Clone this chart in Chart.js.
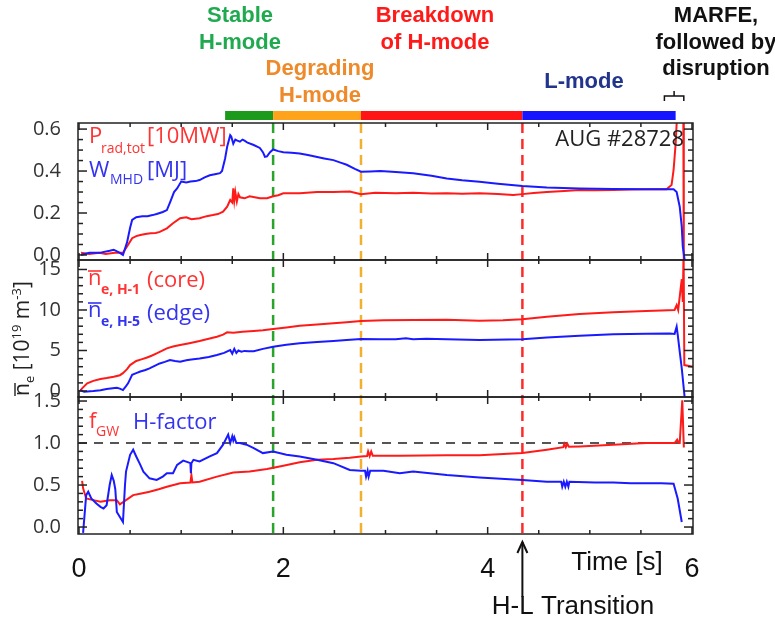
<!DOCTYPE html>
<html>
<head>
<meta charset="utf-8">
<script src="https://cdn.jsdelivr.net/npm/chart.js@4.4.0/dist/chart.umd.min.js"></script>
<style>
    html, body { margin: 0; padding: 0; background: #fff; }
    #wrap { position: relative; width: 775px; height: 624px; }
</style>
</head>
<body>
<div id="wrap"><canvas id="shotChart" width="775" height="624"></canvas></div>
<script>
// tick labels
var timeTicks = [0, 2, 4, 6];
var energyTicks = [0, 0.2, 0.4, 0.6];
var densTicks = [0, 5, 10, 15];
var factorTicks = [0, 0.5, 1.0, 1.5];

// phases (s)
var phaseEdges = [1.43, 1.90, 2.76, 4.34, 5.84];
var phaseColors = ['#1c9a1c', '#ffa31a', '#ff1515', '#1515ff'];
var markerTimes = [1.90, 2.76, 4.34];
var markerColors = ['#2aa52a', '#f2b02e', '#ff2a2a'];
var marfeSpan = [5.73, 5.92];
var hlTime = 4.34;
var greenwaldLimit = 1.0;

// W_MHD [MJ]  [t, value]
var wmhd = [[0.02,0.00],[0.10,0.01],[0.20,0.01],[0.30,0.02],[0.34,0.025],[0.40,0.01],[0.43,0.00],[0.47,0.06],[0.50,0.13],[0.52,0.167],[0.56,0.18],[0.62,0.185],[0.67,0.185],[0.72,0.19],[0.76,0.195],[0.82,0.205],[0.86,0.214],[0.89,0.25],[0.93,0.30],[0.96,0.317],[1.00,0.35],[1.05,0.345],[1.09,0.35],[1.14,0.352],[1.18,0.357],[1.23,0.37],[1.28,0.38],[1.33,0.385],[1.38,0.39],[1.40,0.40],[1.43,0.46],[1.45,0.516],[1.48,0.571],[1.49,0.565],[1.51,0.53],[1.53,0.55],[1.55,0.545],[1.575,0.54],[1.60,0.55],[1.62,0.545],[1.65,0.535],[1.71,0.524],[1.77,0.51],[1.80,0.49],[1.82,0.468],[1.84,0.47],[1.87,0.49],[1.90,0.503],[1.95,0.495],[2.00,0.49],[2.08,0.487],[2.16,0.484],[2.24,0.476],[2.32,0.468],[2.40,0.46],[2.49,0.452],[2.56,0.44],[2.62,0.43],[2.70,0.41],[2.76,0.397],[2.85,0.398],[2.95,0.40],[3.10,0.395],[3.27,0.389],[3.45,0.378],[3.60,0.365],[3.75,0.356],[3.92,0.349],[4.10,0.34],[4.34,0.329],[4.58,0.322],[4.90,0.317],[5.23,0.314],[5.55,0.313],[5.75,0.313],[5.82,0.313],[5.85,0.30],[5.88,0.23],[5.90,0.135],[5.91,0.04],[5.93,-0.03]];
// P_rad,tot [10MW]
var prad = [[0.02,0.01],[0.10,0.005],[0.20,0.01],[0.26,0.005],[0.35,0.01],[0.43,0.01],[0.47,0.04],[0.52,0.08],[0.56,0.09],[0.60,0.095],[0.65,0.10],[0.70,0.103],[0.75,0.105],[0.79,0.11],[0.86,0.127],[0.92,0.151],[0.99,0.175],[1.05,0.18],[1.10,0.17],[1.18,0.175],[1.25,0.185],[1.31,0.19],[1.36,0.195],[1.41,0.206],[1.45,0.23],[1.48,0.262],[1.50,0.25],[1.51,0.318],[1.52,0.26],[1.53,0.30],[1.545,0.255],[1.56,0.29],[1.575,0.275],[1.62,0.27],[1.67,0.28],[1.72,0.275],[1.77,0.27],[1.84,0.27],[1.90,0.28],[1.95,0.285],[2.00,0.294],[2.16,0.294],[2.33,0.30],[2.49,0.30],[2.65,0.302],[2.76,0.29],[2.90,0.297],[3.10,0.294],[3.27,0.296],[3.45,0.293],[3.60,0.294],[3.75,0.292],[3.92,0.294],[4.10,0.29],[4.25,0.286],[4.34,0.29],[4.45,0.295],[4.58,0.30],[4.75,0.305],[4.90,0.31],[5.05,0.308],[5.23,0.31],[5.40,0.312],[5.55,0.313],[5.75,0.313],[5.80,0.333],[5.82,0.405],[5.84,0.53],[5.85,0.627],[5.87,0.70],[5.915,0.70],[5.92,-0.05]];
// line averaged density, core (H-1) and edge (H-5) [1e19 m^-3]
var neCore = [[0.01,0.0],[0.03,0.33],[0.08,0.95],[0.14,1.25],[0.21,1.48],[0.27,1.6],[0.34,1.77],[0.40,1.95],[0.43,2.2],[0.47,2.7],[0.50,3.2],[0.56,3.7],[0.61,3.9],[0.66,4.1],[0.71,4.35],[0.76,4.65],[0.81,4.95],[0.86,5.27],[0.92,5.5],[0.99,5.68],[1.08,5.9],[1.18,6.17],[1.27,6.45],[1.35,6.7],[1.41,6.95],[1.45,7.24],[1.51,7.2],[1.60,7.3],[1.71,7.4],[1.80,7.5],[1.90,7.65],[2.03,7.85],[2.16,8.06],[2.33,8.2],[2.49,8.35],[2.62,8.5],[2.76,8.64],[2.98,8.72],[3.27,8.77],[3.60,8.8],[3.92,8.68],[4.15,8.72],[4.34,8.85],[4.58,9.18],[4.90,9.5],[5.23,9.71],[5.55,9.88],[5.70,9.95],[5.83,10.0],[5.85,10.6],[5.865,10.0],[5.90,13.8],[5.91,11.0],[5.918,17.5],[5.925,3.2],[6.01,3.0]];
var neEdge = [[0.01,0.1],[0.05,-0.1],[0.14,0.0],[0.21,0.1],[0.27,0.25],[0.33,0.35],[0.37,0.4],[0.40,0.3],[0.43,0.12],[0.46,0.6],[0.48,0.95],[0.52,2.0],[0.56,2.2],[0.60,2.4],[0.65,2.6],[0.69,2.8],[0.74,3.1],[0.79,3.4],[0.84,3.6],[0.89,3.83],[0.94,3.7],[0.99,3.6],[1.05,3.8],[1.10,3.9],[1.18,4.0],[1.27,4.2],[1.35,4.44],[1.42,4.7],[1.48,5.06],[1.50,4.6],[1.52,5.2],[1.54,4.7],[1.56,5.0],[1.59,4.85],[1.62,4.95],[1.66,4.9],[1.71,4.9],[1.80,5.2],[1.90,5.47],[2.03,5.7],[2.16,5.9],[2.33,6.05],[2.49,6.17],[2.62,6.3],[2.76,6.42],[2.95,6.4],[3.10,6.38],[3.20,6.5],[3.27,6.4],[3.40,6.45],[3.60,6.38],[3.92,6.3],[4.34,6.38],[4.58,6.6],[4.90,6.83],[5.23,7.0],[5.55,7.08],[5.78,7.1],[5.83,7.05],[5.85,7.94],[5.86,7.0],[5.88,4.85],[5.90,2.8],[5.93,-1]];
// Greenwald fraction and H-factor
var fgw = [[0.03,0.55],[0.04,0.46],[0.07,0.34],[0.14,0.32],[0.21,0.30],[0.30,0.32],[0.37,0.32],[0.40,0.27],[0.46,0.32],[0.53,0.38],[0.61,0.40],[0.69,0.42],[0.78,0.45],[0.86,0.48],[0.99,0.52],[1.09,0.53],[1.10,0.62],[1.11,0.53],[1.18,0.54],[1.35,0.60],[1.51,0.65],[1.67,0.66],[1.84,0.69],[2.00,0.73],[2.16,0.77],[2.33,0.80],[2.49,0.81],[2.65,0.825],[2.76,0.84],[2.82,0.845],[2.83,0.90],[2.845,0.845],[2.86,0.90],[2.875,0.85],[2.95,0.85],[3.14,0.85],[3.60,0.855],[3.92,0.855],[4.34,0.88],[4.58,0.92],[4.74,0.95],[4.75,0.99],[4.765,0.95],[4.78,0.99],[4.795,0.955],[4.90,0.96],[5.23,0.98],[5.55,1.0],[5.83,1.0],[5.855,1.04],[5.87,1.0],[5.88,1.0],[5.905,1.51],[5.92,0.96],[5.93,0.96]];
var hFactor = [[0.04,-0.07],[0.07,0.38],[0.09,0.42],[0.12,0.34],[0.17,0.28],[0.21,0.24],[0.24,0.22],[0.27,0.26],[0.30,0.5],[0.32,0.62],[0.34,0.55],[0.355,0.45],[0.37,0.18],[0.40,0.12],[0.43,0.06],[0.45,0.5],[0.46,0.66],[0.50,0.86],[0.53,0.92],[0.56,0.84],[0.60,0.74],[0.63,0.66],[0.69,0.58],[0.76,0.56],[0.82,0.6],[0.86,0.64],[0.92,0.64],[0.96,0.74],[1.02,0.79],[1.07,0.77],[1.09,0.76],[1.095,0.64],[1.10,0.76],[1.12,0.80],[1.18,0.78],[1.28,0.84],[1.35,0.88],[1.41,0.98],[1.46,1.1],[1.48,1.0],[1.50,1.08],[1.51,1.03],[1.52,1.07],[1.54,1.0],[1.575,1.0],[1.64,0.98],[1.71,0.94],[1.80,0.88],[1.90,0.9],[2.03,0.86],[2.16,0.84],[2.33,0.8],[2.49,0.76],[2.65,0.68],[2.76,0.67],[2.80,0.67],[2.81,0.60],[2.825,0.67],[2.835,0.60],[2.85,0.67],[2.98,0.67],[3.14,0.64],[3.27,0.66],[3.60,0.62],[3.92,0.59],[4.34,0.56],[4.58,0.54],[4.72,0.54],[4.73,0.48],[4.745,0.54],[4.76,0.48],[4.775,0.54],[4.79,0.48],[4.80,0.54],[5.05,0.53],[5.23,0.53],[5.40,0.52],[5.55,0.52],[5.70,0.52],[5.82,0.515],[5.86,0.34],[5.90,0.06]];

var RED = '#ff1a1a', BLUE = '#1a1aff';
var RED_TXT = '#ff3333', BLUE_TXT = '#3333f0';
var SANS = "'Liberation Sans', Arial, sans-serif";
var OPEN = "'Open Sans', sans-serif";

function series(pairs, axis, color) {
    return {
        data: pairs.map(p => ({ x: p[0], y: p[1] })),
        xAxisID: 'x',
        yAxisID: axis,
        borderColor: color,
        borderWidth: 2,
        pointRadius: 0,
        fill: false,
        tension: 0
    };
}

function fixTicks(list) {
    return function (axis) { axis.ticks = list.map(v => ({ value: v })); };
}

function yScale(list, min, max, w, fmt) {
    return {
        type: 'linear', position: 'left', stack: 'panels', stackWeight: 1, weight: w,
        min: min, max: max,
        grid: { display: false }, border: { display: false },
        ticks: { font: { family: OPEN, size: 20 }, color: '#333', padding: 9, autoSkip: false, callback: fmt },
        afterBuildTicks: fixTicks(list),
        afterFit: function (axis) { axis.width = 78; }
    };
}

// each panel only draws inside its own box
var panelClip = {
    id: 'panelClip',
    beforeDatasetDraw: function (chart, args) {
        var ys = chart.scales[args.meta.yAxisID];
        var a = chart.chartArea;
        chart.ctx.save();
        chart.ctx.beginPath();
        chart.ctx.rect(a.left, ys.top, a.right - a.left, ys.bottom - ys.top);
        chart.ctx.clip();
    },
    afterDatasetDraw: function (chart) { chart.ctx.restore(); }
};

var panels = [
    { id: 'yTop', major: 0.2, minor: 0.05 },
    { id: 'yMid', major: 5, minor: 1 },
    { id: 'yBot', major: 0.5, minor: 0.1 }
];

function line(ctx, x0, y0, x1, y1) {
    ctx.beginPath(); ctx.moveTo(x0, y0); ctx.lineTo(x1, y1); ctx.stroke();
}

function txt(ctx, s, x, y, font, color, align) {
    ctx.font = font; ctx.fillStyle = color; ctx.textAlign = align || 'left';
    ctx.fillText(s, x, y);
    return ctx.measureText(s).width;
}

var decorations = {
    id: 'decorations',
    beforeDatasetsDraw: function (chart) {
        var ctx = chart.ctx, a = chart.chartArea, x = chart.scales.x;
        ctx.save();
        ctx.lineWidth = 2.5;
        ctx.setLineDash([10, 6]);
        markerTimes.forEach(function (t, i) {
            var px = x.getPixelForValue(t);
            ctx.strokeStyle = markerColors[i];
            line(ctx, px, a.top, px, a.bottom);
        });
        var yb = chart.scales.yBot.getPixelForValue(greenwaldLimit);
        ctx.strokeStyle = '#555';
        ctx.lineWidth = 2;
        ctx.setLineDash([9, 7]);
        line(ctx, a.left, yb, a.right, yb);
        ctx.restore();
    },
    afterDatasetsDraw: function (chart) {
        var ctx = chart.ctx, a = chart.chartArea, x = chart.scales.x;
        ctx.save();
        ctx.strokeStyle = '#222';
        ctx.lineWidth = 1.5;
        panels.forEach(function (p) {
            var s = chart.scales[p.id];
            ctx.strokeRect(a.left, s.top, a.right - a.left, s.bottom - s.top);
            var n0 = Math.ceil(s.min / p.minor - 1e-6), n1 = Math.floor(s.max / p.minor + 1e-6);
            for (var n = n0; n <= n1; n++) {
                var v = n * p.minor;
                var py = s.getPixelForValue(v);
                if (py < s.top + 2 || py > s.bottom - 2) continue;
                var k = p.major / p.minor;
                var len = (Math.abs(n / k - Math.round(n / k)) < 1e-6) ? 9 : 5;
                line(ctx, a.left, py, a.left + len, py);
                line(ctx, a.right, py, a.right - len, py);
            }
            for (var m = 0; m <= 12; m++) {
                var t = m * 0.5;
                var px = x.getPixelForValue(t);
                var l2 = (m % 4 === 0) ? 7 : 4;
                line(ctx, px, s.top, px, s.top + l2);
                line(ctx, px, s.bottom, px, s.bottom - l2);
            }
        });

        // phase bar on top
        for (var i = 0; i < phaseColors.length; i++) {
            var x0 = x.getPixelForValue(phaseEdges[i]), x1 = x.getPixelForValue(phaseEdges[i + 1]);
            ctx.fillStyle = phaseColors[i];
            ctx.fillRect(x0, 111, x1 - x0, 9);
        }
        // MARFE bracket
        var b0 = x.getPixelForValue(marfeSpan[0]), b1 = x.getPixelForValue(marfeSpan[1]);
        ctx.strokeStyle = '#111';
        ctx.lineWidth = 1.5;
        ctx.beginPath();
        ctx.moveTo(b0, 101); ctx.lineTo(b0, 96); ctx.lineTo(b1, 96); ctx.lineTo(b1, 101);
        ctx.moveTo((b0 + b1) / 2, 96); ctx.lineTo((b0 + b1) / 2, 91);
        ctx.stroke();

        // phase labels
        ctx.textBaseline = 'middle';
        var bold = 'bold 22px ' + SANS;
        [
            { lines: ['Stable', 'H-mode'], x: 240, y: [16, 43], color: '#20aa50' },
            { lines: ['Degrading', 'H-mode'], x: 320, y: [69, 96], color: '#ee8a2a' },
            { lines: ['Breakdown', 'of H-mode'], x: 435, y: [16, 43], color: '#ff1a1a' },
            { lines: ['L-mode'], x: 584, y: [82], color: '#22358c' },
            { lines: ['MARFE,', 'followed by', 'disruption'], x: 716, y: [16, 43, 69], color: '#111' }
        ].forEach(function (lb) {
            lb.lines.forEach(function (s, j) { txt(ctx, s, lb.x, lb.y[j], bold, lb.color, 'center'); });
        });

        // time axis title and H-L arrow
        txt(ctx, 'Time [s]', 617, 563, '26px ' + SANS, '#111', 'center');
        txt(ctx, 'H-L Transition', 573, 607, '26px ' + SANS, '#111', 'center');
        var ax = x.getPixelForValue(hlTime);
        ctx.strokeStyle = '#111';
        ctx.lineWidth = 2;
        line(ctx, ax, 542, ax, 597);
        ctx.beginPath(); ctx.moveTo(ax - 5, 553); ctx.lineTo(ax, 542); ctx.lineTo(ax + 5, 553); ctx.stroke();

        // panel legends
        ctx.textBaseline = 'alphabetic';
        var big = '22px ' + OPEN, sub = '14px ' + OPEN, subB = 'bold 14px ' + OPEN;
        txt(ctx, 'P', 89, 143, big, RED_TXT);
        txt(ctx, 'rad,tot', 101, 153, sub, RED_TXT);
        txt(ctx, '[10MW]', 147, 143, big, RED_TXT);
        txt(ctx, 'W', 89, 177, big, BLUE_TXT);
        txt(ctx, 'MHD', 110, 184, sub, BLUE_TXT);
        txt(ctx, '[MJ]', 147, 177, big, BLUE_TXT);
        txt(ctx, 'AUG #28728', 684, 146, big, '#222', 'right');

        var nw = txt(ctx, 'n', 88, 285, big, RED_TXT);
        ctx.strokeStyle = RED_TXT; ctx.lineWidth = 1.6;
        line(ctx, 88, 271, 88 + nw, 271);
        txt(ctx, 'e, H-1', 101, 294, subB, RED_TXT);
        txt(ctx, '(core)', 147, 287, big, RED_TXT);
        txt(ctx, 'n', 88, 317, big, BLUE_TXT);
        ctx.strokeStyle = BLUE_TXT;
        line(ctx, 88, 303, 88 + nw, 303);
        txt(ctx, 'e, H-5', 101, 326, subB, BLUE_TXT);
        txt(ctx, '(edge)', 147, 320, big, BLUE_TXT);

        txt(ctx, 'f', 89, 428, big, RED_TXT);
        txt(ctx, 'GW', 96, 436, sub, RED_TXT);
        txt(ctx, 'H-factor', 133, 429, big, BLUE_TXT);

        // rotated density title
        ctx.translate(29, 396);
        ctx.rotate(-Math.PI / 2);
        var cx = 0, f20 = '21px ' + OPEN, f13 = '13px ' + OPEN;
        var w0 = txt(ctx, 'n', cx, 0, f20, '#222');
        ctx.strokeStyle = '#222'; ctx.lineWidth = 1.4;
        line(ctx, cx, -14, cx + w0, -14);
        cx += w0;
        cx += txt(ctx, 'e', cx, 5, f13, '#222');
        cx += txt(ctx, ' [10', cx, 0, f20, '#222');
        cx += txt(ctx, '19', cx, -8, f13, '#222');
        cx += txt(ctx, ' m', cx, 0, f20, '#222');
        cx += txt(ctx, '-3', cx, -8, f13, '#222');
        txt(ctx, ']', cx, 0, f20, '#222');
        ctx.restore();
    }
};

var ctx = document.getElementById('shotChart').getContext('2d');
var shotChart = new Chart(ctx, {
    type: 'line',
    data: {
        datasets: [
            series(wmhd, 'yTop', BLUE),
            series(prad, 'yTop', RED),
            series(neEdge, 'yMid', BLUE),
            series(neCore, 'yMid', RED),
            series(hFactor, 'yBot', BLUE),
            series(fgw, 'yBot', RED)
        ]
    },
    options: {
        responsive: false,
        maintainAspectRatio: false,
        animation: false,
        devicePixelRatio: 1,
        layout: { padding: { left: 0, right: 82, top: 123, bottom: 0 } },
        plugins: { legend: { display: false }, tooltip: { enabled: false } },
        scales: {
            x: {
                type: 'linear', position: 'bottom', min: -0.01, max: 6.01,
                grid: { display: false }, border: { display: false },
                ticks: {
                    font: { family: SANS, size: 27 }, color: '#111', padding: 11,
                    maxRotation: 0, autoSkip: false,
                    callback: function (v) { return String(v); }
                },
                afterBuildTicks: fixTicks(timeTicks),
                afterFit: function (axis) { axis.height = 90; }
            },
            yBot: yScale(factorTicks, -0.083, 1.548, 1, function (v) { return v.toFixed(1); }),
            yMid: yScale(densTicks, -0.74, 16.17, 2, function (v) { return String(v); }),
            yTop: yScale(energyTicks, -0.024, 0.629, 3, function (v) { return v.toFixed(1); })
        }
    },
    plugins: [panelClip, decorations]
});
</script>
</body>
</html>
